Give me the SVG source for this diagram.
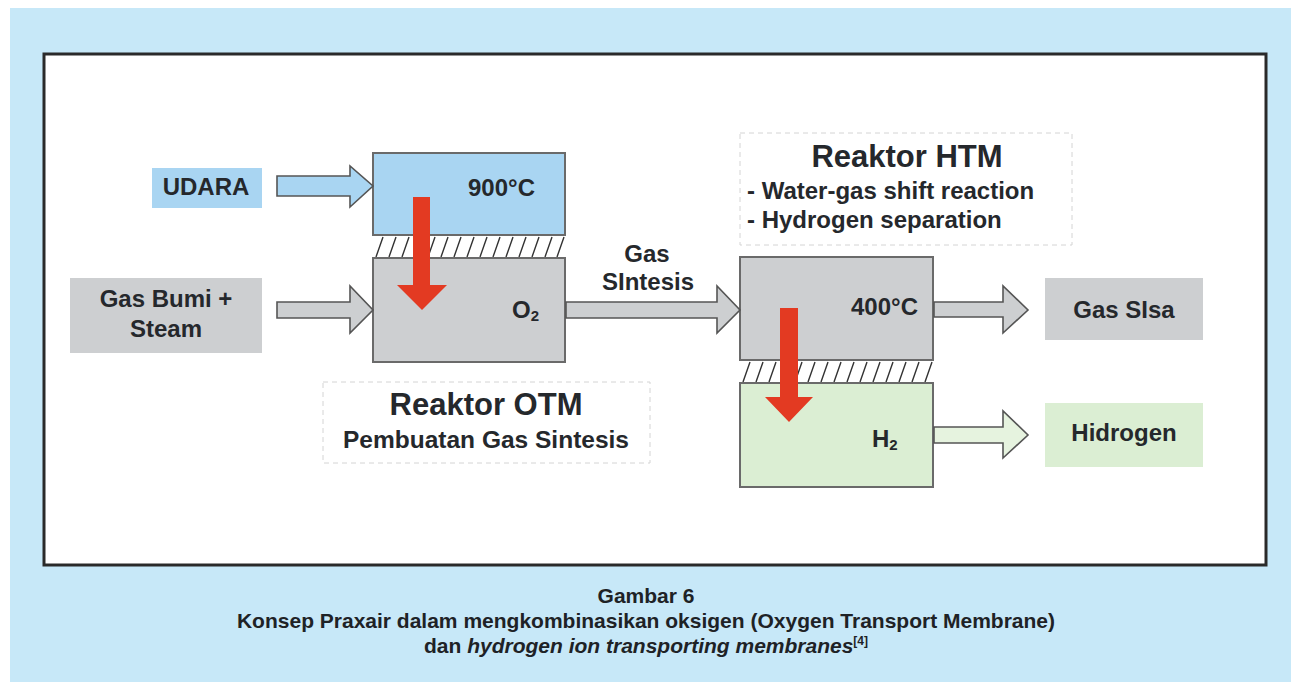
<svg xmlns="http://www.w3.org/2000/svg" width="1291" height="682" viewBox="0 0 1291 682">
<defs>
<style>
text{font-family:"Liberation Sans",Arial,sans-serif;font-weight:bold;fill:#25282c}
.lbl{font-size:24px}
.hatch{stroke:#333;stroke-width:1.4;fill:none}
.box{stroke:#6a6a6a;stroke-width:2}
.arr{stroke:#555;stroke-width:1.6}
.dash{fill:#fff;stroke:#d4d4d4;stroke-width:1;stroke-dasharray:5 4}
.red{fill:#e33a22}
.cap{font-size:21px;fill:#1e2226}
</style>
</defs>
<rect x="10" y="8" width="1281" height="674" fill="#c7e8f8"/>
<rect x="44" y="54" width="1222" height="511" fill="#fff" stroke="#2a2a2a" stroke-width="3"/>

<g id="reaktor-otm-label">
<rect class="dash" x="323" y="382" width="327" height="81"/>
<text x="486" y="415" text-anchor="middle" font-size="31">Reaktor OTM</text>
<text x="486" y="448" text-anchor="middle" font-size="24.5">Pembuatan Gas Sintesis</text>
</g>
<g id="reaktor-htm-label">
<rect class="dash" x="740" y="133" width="332" height="112"/>
<text x="907" y="167" text-anchor="middle" font-size="31">Reaktor HTM</text>
<text x="747" y="199" font-size="24">- Water-gas shift reaction</text>
<text x="747" y="228" font-size="24">- Hydrogen separation</text>
</g>

<g id="udara">
<rect x="152" y="168" width="110" height="40" fill="#a9d5f2"/>
<text class="lbl" x="206" y="195" text-anchor="middle" fill="#1e2a3a">UDARA</text>
</g>
<g id="gas-bumi">
<rect x="70" y="278" width="192" height="75" fill="#cdcfd1"/>
<text class="lbl" x="166" y="307" text-anchor="middle">Gas Bumi +</text>
<text class="lbl" x="166" y="337" text-anchor="middle">Steam</text>
</g>
<g id="reaktor-900">
<rect class="box" x="373" y="153" width="192" height="82" fill="#a9d5f2"/>
<text class="lbl" x="535" y="196" text-anchor="end" fill="#1e2a3a">900°C</text>
</g>
<g id="hatch-otm">
<path class="hatch" d="M376,257l7,-20M389,257l7,-20M402,257l7,-20M415,257l7,-20M428,257l7,-20M441,257l7,-20M454,257l7,-20M467,257l7,-20M480,257l7,-20M493,257l7,-20M506,257l7,-20M519,257l7,-20M532,257l7,-20M545,257l7,-20M557,257l7,-20"/>
</g>
<g id="reaktor-o2">
<rect class="box" x="373" y="258" width="192" height="104" fill="#cdcfd1"/>
<text class="lbl" x="512" y="318">O<tspan font-size="15" dy="3">2</tspan></text>
</g>
<g id="reaktor-400">
<rect class="box" x="740" y="257" width="193" height="103" fill="#cdcfd1"/>
<text class="lbl" x="918" y="315" text-anchor="end">400°C</text>
</g>
<g id="hatch-htm">
<path class="hatch" d="M743,382l7,-20M756,382l7,-20M769,382l7,-20M782,382l7,-20M795,382l7,-20M808,382l7,-20M821,382l7,-20M834,382l7,-20M847,382l7,-20M860,382l7,-20M873,382l7,-20M886,382l7,-20M899,382l7,-20M912,382l7,-20M925,382l7,-20"/>
</g>
<g id="reaktor-h2">
<rect class="box" x="740" y="383" width="193" height="104" fill="#dbeed3"/>
<text class="lbl" x="872" y="447">H<tspan font-size="15" dy="3">2</tspan></text>
</g>
<g id="gas-sisa">
<rect x="1045" y="278" width="158" height="62" fill="#cdcfd1"/>
<text class="lbl" x="1124" y="318" text-anchor="middle">Gas SIsa</text>
</g>
<g id="hidrogen">
<rect x="1045" y="403" width="158" height="64" fill="#dbeed3"/>
<text class="lbl" x="1124" y="441" text-anchor="middle">Hidrogen</text>
</g>

<g id="connectors">
<polygon class="arr" fill="#a9d5f2" points="277,176 350,176 350,166 373,186 350,207 350,196 277,196"/>
<polygon class="arr" fill="#cdcfd1" points="277,302 350,302 350,286 373,310 350,333 350,318 277,318"/>
<polygon class="arr" fill="#cdcfd1" points="566,302 717,302 717,286 740,310 717,333 717,318 566,318"/>
<polygon class="arr" fill="#cdcfd1" points="934,302 1003,302 1003,286 1028,310 1003,333 1003,317 934,317"/>
<polygon class="arr" fill="#e6f3df" points="934,427 1003,427 1003,411 1028,435 1003,458 1003,443 934,443"/>
<polygon class="red" points="413,197 430,197 430,285 447,285 422,310 397,285 413,285"/>
<polygon class="red" points="780,308 798,308 798,397 813,397 789,422 765,397 780,397"/>
<text x="647" y="262" text-anchor="middle" font-size="24">Gas</text>
<text x="648" y="290" text-anchor="middle" font-size="24">SIntesis</text>
</g>

<g id="caption">
<text class="cap" x="646" y="603" text-anchor="middle">Gambar 6</text>
<text class="cap" x="646" y="628" text-anchor="middle">Konsep Praxair dalam mengkombinasikan oksigen (Oxygen Transport Membrane)</text>
<text class="cap" x="646" y="653" text-anchor="middle">dan <tspan font-style="italic">hydrogen ion transporting membranes</tspan><tspan font-size="12" dy="-8">[4]</tspan></text>
</g>
</svg>
